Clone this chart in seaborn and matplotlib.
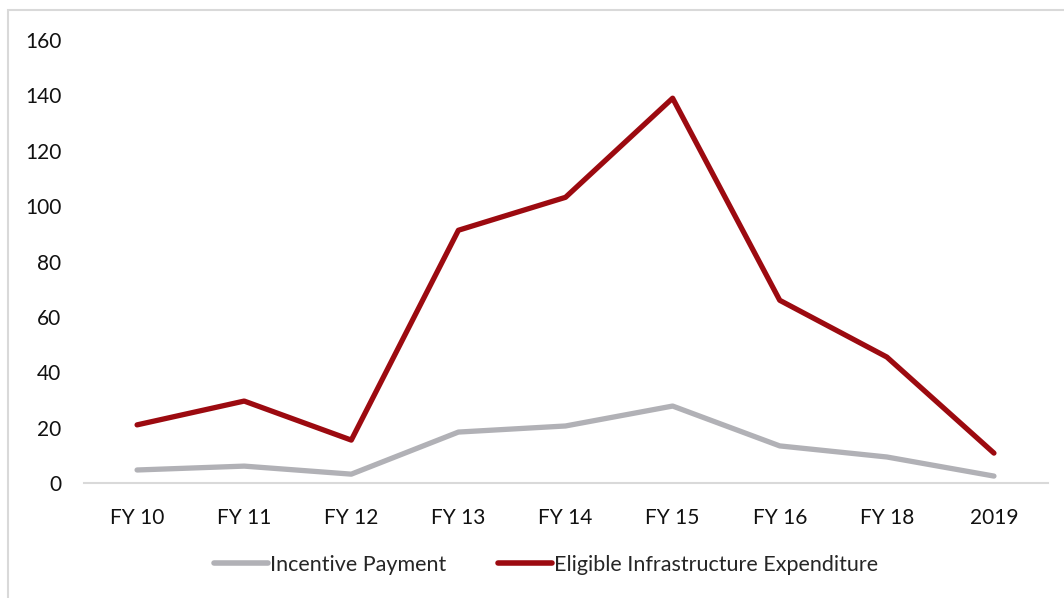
import pandas as pd
import matplotlib.pyplot as plt
import seaborn as sns
from matplotlib.patches import Rectangle

years = ['FY 10', 'FY 11', 'FY 12', 'FY 13', 'FY 14', 'FY 15', 'FY 16', 'FY 18', '2019']
incentive = [4.7, 6.1, 3.2, 18.4, 20.6, 27.8, 13.4, 9.4, 2.5]
expenditure = [21, 29.6, 15.5, 91.3, 103.2, 139, 66, 45.5, 10.8]

df = pd.DataFrame({
    'year': years * 2,
    'value': incentive + expenditure,
    'series': ['Incentive Payment'] * len(years) + ['Eligible Infrastructure Expenditure'] * len(years),
})

sns.set_style('white')
plt.rcParams['font.family'] = ['Lato', 'DejaVu Sans']

fig = plt.figure(figsize=(10.64, 5.98), dpi=100)
ax = fig.add_axes([0.0785, 0.1923, 0.906, 0.7407])

# chart area border
fig.patches.append(Rectangle((8 / 1064, -0.05), 1.1, (598 - 10) / 598 + 0.05,
                             transform=fig.transFigure, fill=False,
                             edgecolor='#d9d9d9', linewidth=1.5, zorder=0))

sns.lineplot(data=df, x='year', y='value', hue='series', sort=False,
             palette={'Incentive Payment': '#b1b1b6',
                      'Eligible Infrastructure Expenditure': '#9c0a10'},
             linewidth=3.8, ax=ax)
for line in ax.get_lines():
    line.set_solid_capstyle('round')
    line.set_solid_joinstyle('round')

ax.set_xlim(-0.5, len(years) - 0.5)
ax.set_ylim(0, 160)
ax.set_yticks(range(0, 161, 20))
ax.set_xlabel('')
ax.set_ylabel('')
for s in ['top', 'right', 'left']:
    ax.spines[s].set_visible(False)
ax.spines['bottom'].set_color('#d9d9d9')
ax.spines['bottom'].set_linewidth(1.5)
ax.tick_params(axis='both', length=0, labelsize=15, colors='#111111')
ax.tick_params(axis='x', pad=18)
ax.tick_params(axis='y', pad=16)

handles, labels = ax.get_legend_handles_labels()
for h in handles:
    h.set_linewidth(4)
    h.set_solid_capstyle('round')
ax.legend(handles, labels, loc='center', bbox_to_anchor=(0.48, -0.185), ncol=2,
          frameon=False, fontsize=15.5, handlelength=2.5, handletextpad=0.1,
          columnspacing=2.4)

fig.savefig('out.png', dpi=100)
